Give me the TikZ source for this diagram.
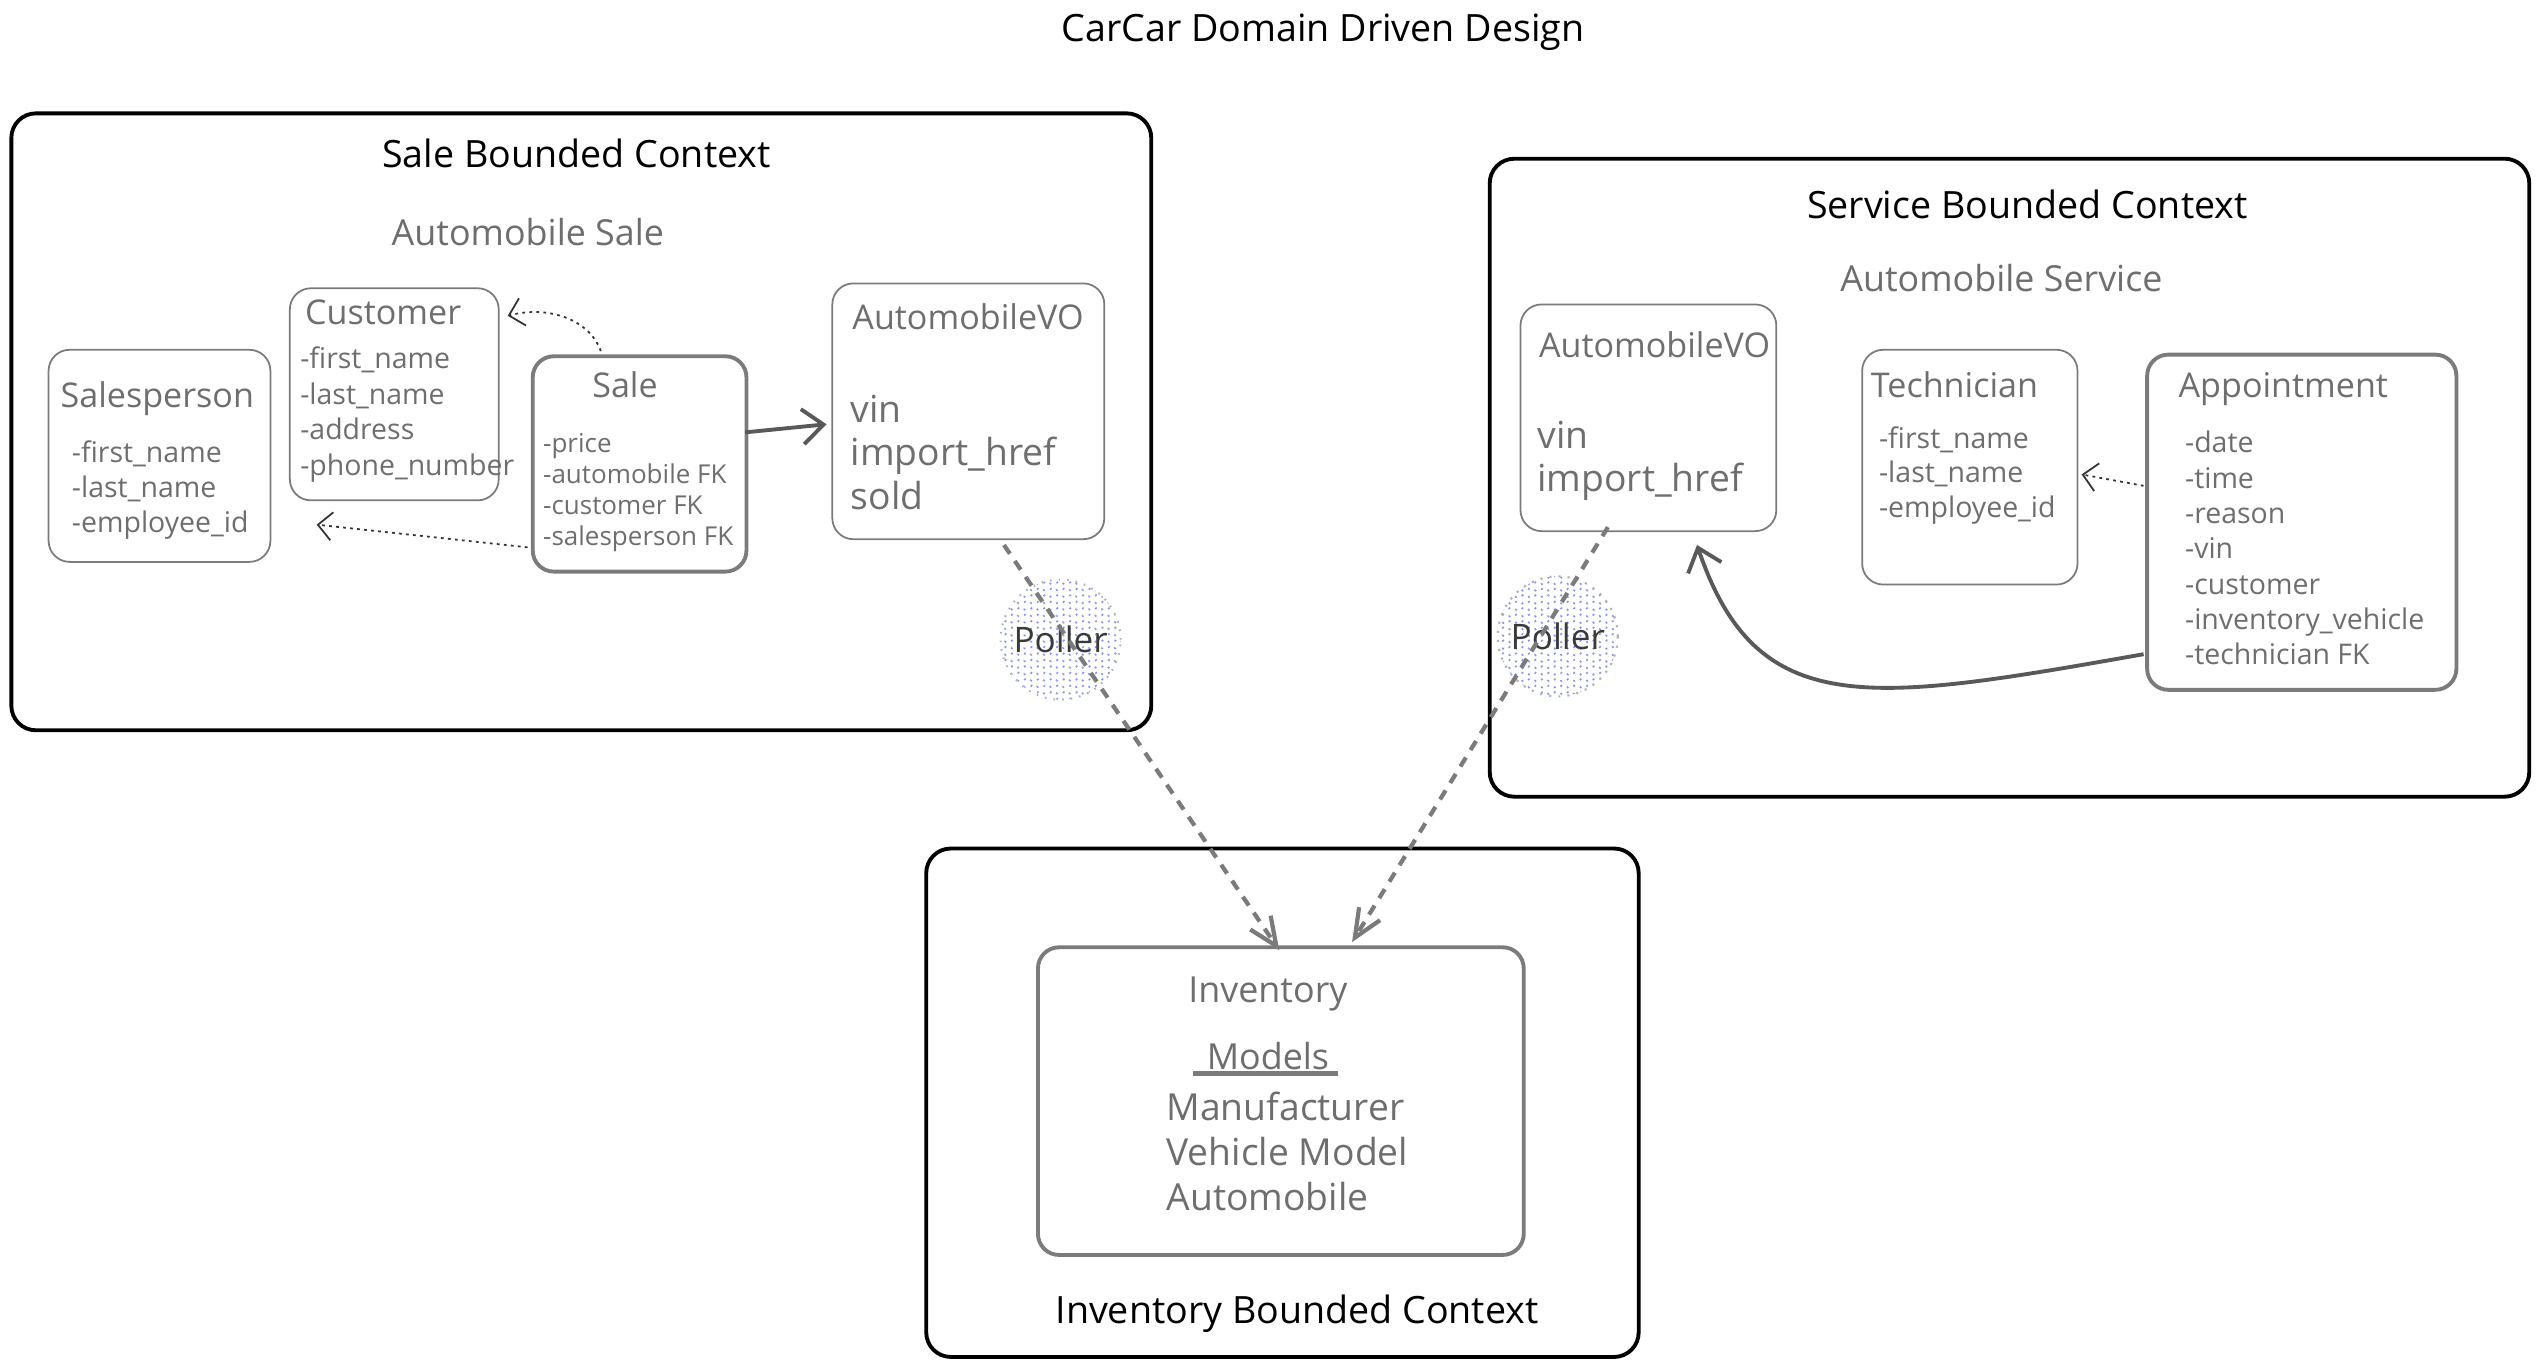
\documentclass[tikz,border=0pt]{standalone}
\usepackage{fontspec}
\setmainfont{Open Sans}
\usetikzlibrary{arrows.meta,positioning,fit,calc,patterns.meta}
\definecolor{inkgrey}{HTML}{6E6E6E}
\definecolor{boxgrey}{HTML}{7B7B7B}
\definecolor{pollerink}{HTML}{3A3A3A}
\definecolor{hatchblue}{HTML}{8595F4}

\tikzset{
  ctxbox/.style={draw=black,line width=1.1pt,rounded corners=7pt,inner sep=0pt},
  entbox/.style={draw=boxgrey,line width=0.5pt,rounded corners=6pt,inner sep=0pt},
  aggbox/.style={draw=boxgrey,line width=1.1pt,rounded corners=6pt,inner sep=0pt},
  ctxtitle/.style={font=\fontsize{10.7}{12}\selectfont,text=black,inner sep=0pt},
  grptitle/.style={font=\fontsize{10.2}{12}\selectfont,text=inkgrey,inner sep=0pt},
  txt/.style={text=inkgrey,anchor=west,inner sep=0pt,text height=1.6ex,text depth=0.45ex},
  enttitle/.style={txt,font=\fontsize{9.7}{12}\selectfont},
  item/.style={txt,font=\fontsize{8.1}{10}\selectfont},
  smallitem/.style={txt,font=\fontsize{7.4}{8}\selectfont},
  bigitem/.style={txt,font=\fontsize{10.6}{12}\selectfont},
  poller/.style={circle,minimum size=1.2cm,inner sep=0pt,draw=black!30,dotted,line width=0.6pt,
    preaction={pattern={Lines[angle=45,distance=2.6pt,line width=0.45pt]},pattern color=hatchblue},
    pattern={Lines[angle=-45,distance=2.6pt,line width=0.45pt]},pattern color=hatchblue,
    font=\fontsize{10}{12}\selectfont,text=pollerink},
  syncarr/.style={draw=boxgrey,line width=1.2pt,dash pattern=on 3pt off 2.5pt,
    -{Straight Barb[length=8pt,width=7pt]}},
  fkarr/.style={draw=black!65,line width=1.1pt,-{Straight Barb[length=6pt,width=10pt]}},
  refarr/.style={draw=black!80,line width=0.5pt,dash pattern=on 0.8pt off 1.2pt,
    -{Straight Barb[length=4pt,width=8pt]}}
}

\begin{document}
\begin{tikzpicture}[x=0.16193mm,y=-0.16193mm]
  \useasboundingbox (0,0) rectangle (1568,845);
  \node[ctxtitle] (title) at (817,20) {CarCar Domain Driven Design};

  % sale bounded context
  \node[ctxbox,fit={(7,70)(711,451)}] (salectx) {};
  \node[ctxtitle] (saletitle) at (356,95) {Sale Bounded Context};
  \node[grptitle] (salegrp) at (326,143) {Automobile Sale};

  \node[entbox,fit={(179,178)(308,309)}] (cust) {};
  \node[enttitle] at (188,194) {Customer};
  \foreach \t [count=\i from 0] in {-first\_name,-last\_name,-address,-phone\_number}
    \node[item] (cu\i) at (185,221+\i*21.9) {\t};

  \node[entbox,fit={(30,216)(167,347)}] (seller) {};
  \node[enttitle] at (37,245) {Salesperson};
  \foreach \t [count=\i from 0] in {-first\_name,-last\_name,-employee\_id}
    \node[item] (sp\i) at (44,279+\i*21.5) {\t};

  \node[aggbox,fit={(329,220)(461,353)}] (sale) {};
  \node[enttitle,anchor=center] at (386,239) {Sale};
  \foreach \t [count=\i from 0] in {-price,-automobile FK,-customer FK,-salesperson FK}
    \node[smallitem] (sa\i) at (335,273+\i*19) {\t};

  \node[entbox,fit={(514,175)(682,333)}] (avosale) {};
  \node[enttitle] at (526,197) {AutomobileVO};
  \foreach \t/\y in {vin/254,import\_href/281,sold/308}
    \node[bigitem] at (525,\y) {\t};

  \node[poller] (pollsale) at (655,395) {Poller};

  % service bounded context
  \node[ctxbox,fit={(920,98)(1562,492)}] (svcctx) {};
  \node[ctxtitle] (svctitle) at (1252,126) {Service Bounded Context};
  \node[grptitle] (svcgrp) at (1236,172) {Automobile Service};

  \node[entbox,fit={(939,188)(1097,328)}] (avosvc) {};
  \node[enttitle] at (950,214) {AutomobileVO};
  \foreach \t/\y in {vin/270,import\_href/297}
    \node[bigitem] at (949,\y) {\t};

  \node[entbox,fit={(1150,216)(1283,361)}] (tech) {};
  \node[enttitle] at (1155,239) {Technician};
  \foreach \t [count=\i from 0] in {-first\_name,-last\_name,-employee\_id}
    \node[item] (te\i) at (1160,270+\i*21.5) {\t};

  \node[aggbox,fit={(1326,219)(1517,426)}] (appt) {};
  \node[enttitle] at (1345,239) {Appointment};
  \foreach \t [count=\i from 0] in {-date,-time,-reason,-vin,-customer,-inventory\_vehicle,-technician FK}
    \node[item] (ap\i) at (1349,273+\i*21.8) {\t};

  \node[poller] (pollsvc) at (962,393) {Poller};

  % inventory bounded context
  \node[ctxbox,fit={(572,524)(1012,838)}] (invctx) {};
  \node[ctxtitle] (invtitle) at (801,811) {Inventory Bounded Context};
  \node[aggbox,fit={(641,585)(941,775)}] (inv) {};
  \node[grptitle] at (783,614) {Inventory};
  \node[grptitle] (models) at (783,652) {Models};
  \draw[boxgrey,line width=1.2pt] (737,663) -- (826,663);
  \foreach \t/\y in {Manufacturer/685,Vehicle Model/713,Automobile/741}
    \node[bigitem] at (720,\y) {\t};

  % connectors
  \draw[fkarr] ($(sale.east)+(-2,-19.5)$) -- ($(avosale.west)+(-3,8)$);
  \draw[refarr] ($(sale.north)+(-24,-2)$) .. controls +(-6,-18) and +(27,-7) .. ($(cust.east)+(5,-48.5)$);
  \draw[refarr] ($(sale.west)+(-2,51.5)$) -- ($(seller.east)+(28,42.5)$);
  \draw[refarr] ($(appt.west)+(-1,-22.5)$) -- ($(tech.east)+(2,4.5)$);
  \draw[fkarr] ($(appt.west)+(-1,81.5)$) .. controls +(-170,30) and +(37,109) .. ($(avosvc.south)+(30,8)$);
  \draw[syncarr] ($(avosale.south)+(22,3)$) -- ($(inv.north)+(-1,3)$);
  \draw[syncarr] ($(avosvc.south)+(-25,-3)$) -- ($(inv.north)+(44,-2)$);
\end{tikzpicture}
\end{document}
